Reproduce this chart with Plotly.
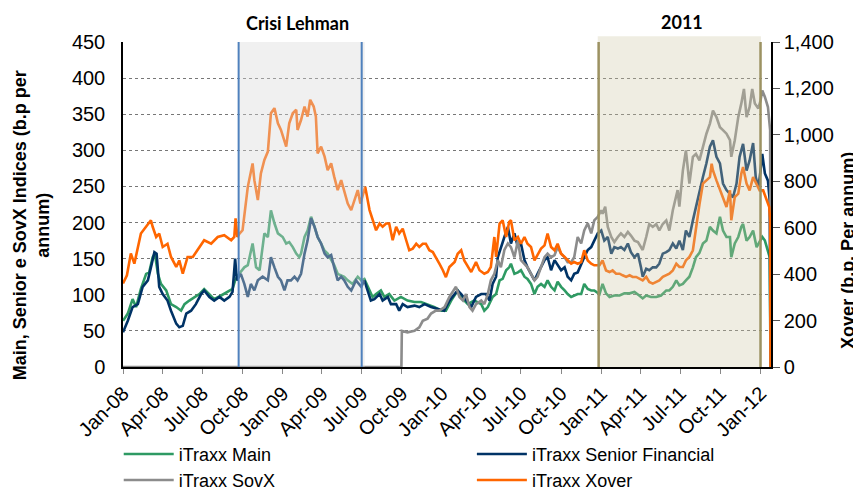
import plotly.graph_objects as go
from datetime import date, timedelta

BASE_DATE = date(2008, 1, 1)

xover_day = [0, 9, 18, 26, 41, 53, 64, 68, 76, 83,
             91, 102, 110, 122, 129, 137, 148, 160, 171, 186,
             202, 217, 232, 248, 255, 258, 262, 267, 274, 286,
             297, 301, 309, 316, 324, 332, 339, 347, 355, 362,
             374, 381, 389, 397, 400, 408, 416, 423, 429, 437,
             442, 446, 454, 462, 469, 477, 484, 492, 500, 507,
             515, 523, 530, 538, 544, 555, 565, 572, 580, 588,
             595, 603, 610, 618, 626, 633, 641, 649, 656, 664,
             672, 679, 687, 694, 702, 710, 717, 725, 733, 740,
             748, 760, 767, 775, 782, 790, 798, 809, 817, 828,
             836, 843, 851, 855, 863, 870, 878, 885, 889, 897,
             905, 912, 920, 927, 935, 943, 950, 958, 966, 973,
             981, 989, 996, 1004, 1012, 1019, 1027, 1034, 1042, 1050,
             1057, 1065, 1073, 1080, 1088, 1092, 1099, 1107, 1115, 1122,
             1130, 1138, 1145, 1153, 1161, 1168, 1176, 1183, 1191, 1199,
             1206, 1214, 1222, 1229, 1237, 1245, 1252, 1260, 1268, 1275,
             1283, 1290, 1298, 1306, 1313, 1321, 1329, 1337, 1345, 1349,
             1352, 1360, 1368, 1375, 1383, 1391, 1394, 1402, 1410, 1417,
             1421, 1429, 1436, 1444, 1452, 1459, 1467, 1475, 1481, 1483,
             1484]
xover_bp = [360, 395, 489, 445, 575, 604, 632, 604, 560, 575,
            517, 531, 474, 431, 459, 402, 474, 474, 503, 546,
            531, 560, 568, 546, 560, 640, 560, 575, 589, 776,
            877, 805, 719, 834, 892, 928, 1093, 1115, 1050, 1021,
            949, 1050, 1093, 1108, 1021, 1064, 1122, 1079, 1151, 1122,
            1079, 920, 949, 906, 848, 877, 820, 762, 805, 762,
            704, 676, 719, 762, 704, 776, 676, 632, 589, 618,
            604, 618, 618, 546, 604, 575, 596, 546, 503, 510,
            531, 517, 531, 531, 503, 495, 474, 445, 417, 387,
            431, 452, 488, 503, 459, 431, 409, 452, 417, 402,
            409, 431, 560, 474, 618, 632, 560, 625, 632, 546,
            560, 531, 560, 531, 517, 459, 481, 510, 524, 575,
            517, 503, 531, 488, 474, 459, 445, 452, 445, 452,
            503, 459, 445, 438, 438, 438, 459, 416, 409, 416,
            402, 402, 395, 388, 395, 388, 388, 380, 373, 388,
            366, 359, 366, 373, 388, 395, 402, 416, 445, 431,
            431, 459, 474, 503, 603, 700, 790, 804, 818, 876,
            847, 804, 761, 732, 689, 761, 632, 732, 747, 833,
            861, 790, 761, 818, 790, 761, 761, 718, 689, 632,
            0]

main_day = [0, 11, 22, 30, 41, 53, 60, 68, 73, 80,
            87, 99, 110, 122, 133, 141, 152, 164, 175, 186,
            198, 209, 225, 240, 251, 257, 265, 278, 286, 297,
            305, 313, 324, 332, 339, 347, 355, 366, 374, 381,
            389, 397, 404, 408, 416, 423, 431, 439, 446, 454,
            462, 469, 477, 484, 492, 500, 507, 515, 526, 538,
            546, 553, 561, 572, 580, 591, 599, 610, 622, 637,
            652, 668, 683, 698, 714, 729, 740, 752, 767, 775,
            790, 805, 821, 828, 836, 847, 855, 863, 870, 878,
            885, 889, 897, 905, 912, 920, 927, 935, 943, 950,
            958, 966, 973, 981, 989, 996, 1004, 1012, 1019, 1027,
            1034, 1042, 1050, 1057, 1065, 1073, 1080, 1092, 1099, 1107,
            1115, 1126, 1138, 1149, 1161, 1172, 1183, 1191, 1199, 1210,
            1222, 1233, 1245, 1252, 1260, 1268, 1275, 1283, 1290, 1298,
            1306, 1313, 1321, 1329, 1337, 1345, 1352, 1360, 1368, 1375,
            1383, 1391, 1394, 1402, 1410, 1417, 1421, 1429, 1436, 1444,
            1452, 1459, 1465, 1471, 1478, 1482, 1484]
main_bp = [64, 74, 94, 83, 108, 129, 131, 152, 157, 129,
           115, 106, 87, 83, 78, 87, 92, 97, 101, 108,
           101, 94, 99, 104, 108, 120, 128, 138, 141, 171,
           138, 134, 185, 180, 217, 199, 185, 180, 171, 173,
           166, 157, 152, 157, 180, 189, 208, 194, 180, 171,
           161, 157, 148, 141, 129, 127, 125, 120, 115, 125,
           120, 122, 111, 97, 101, 106, 97, 101, 92, 97,
           92, 90, 90, 87, 83, 78, 78, 92, 106, 97,
           87, 92, 87, 78, 83, 97, 101, 120, 122, 134,
           138, 143, 129, 131, 134, 125, 122, 115, 101, 111,
           115, 111, 120, 111, 106, 118, 111, 106, 101, 97,
           99, 101, 101, 115, 108, 106, 106, 101, 115, 102,
           97, 99, 99, 102, 102, 104, 99, 95, 99, 97,
           97, 99, 106, 106, 111, 120, 113, 115, 120, 125,
           138, 152, 158, 171, 175, 194, 189, 185, 208, 189,
           180, 180, 152, 171, 180, 194, 198, 175, 180, 189,
           166, 173, 180, 175, 162, 152, 0]

senior_day = [0, 11, 22, 34, 45, 57, 64, 72, 77, 83,
              91, 102, 110, 122, 129, 137, 145, 156, 167, 179,
              186, 198, 209, 221, 232, 244, 251, 257, 261, 270,
              278, 286, 293, 301, 309, 320, 332, 339, 347, 355,
              362, 370, 377, 385, 393, 400, 408, 416, 423, 431,
              439, 446, 454, 462, 469, 477, 484, 492, 500, 507,
              515, 523, 534, 546, 553, 561, 568, 576, 588, 595,
              607, 614, 626, 633, 641, 652, 668, 679, 691, 706,
              721, 736, 748, 759, 767, 775, 786, 798, 809, 821,
              832, 840, 847, 855, 859, 866, 874, 882, 889, 897,
              905, 912, 920, 927, 935, 943, 950, 958, 966, 973,
              981, 989, 996, 1004, 1012, 1019, 1027, 1034, 1042, 1050,
              1057, 1065, 1073, 1080, 1088, 1096, 1103, 1111, 1119, 1126,
              1134, 1141, 1149, 1157, 1164, 1172, 1180, 1187, 1191, 1199,
              1206, 1214, 1222, 1229, 1237, 1245, 1252, 1260, 1268, 1275,
              1283, 1290, 1298, 1306, 1313, 1321, 1329, 1337, 1345, 1352,
              1360, 1368, 1375, 1383, 1391, 1398, 1406, 1413, 1421, 1429,
              1436, 1444, 1450, 1456, 1461, 1465, 1471, 1478, 1482, 1484]
senior_bp = [48, 64, 83, 87, 111, 120, 138, 159, 157, 111,
             101, 92, 78, 60, 55, 57, 74, 78, 87, 101,
             106, 97, 92, 97, 92, 97, 104, 150, 120, 129,
             115, 97, 115, 106, 120, 125, 120, 152, 138, 125,
             120, 106, 120, 120, 125, 120, 129, 157, 175, 206,
             194, 180, 171, 157, 152, 155, 138, 120, 125, 120,
             111, 106, 120, 111, 120, 106, 92, 94, 101, 92,
             97, 87, 87, 78, 87, 83, 85, 83, 87, 83,
             81, 78, 92, 101, 106, 101, 92, 83, 97, 101,
             101, 92, 115, 125, 152, 166, 180, 194, 171, 185,
             166, 171, 148, 138, 129, 120, 129, 138, 148, 152,
             134, 148, 141, 134, 138, 125, 120, 129, 131, 143,
             152, 162, 166, 175, 185, 189, 175, 180, 157, 166,
             164, 166, 162, 171, 159, 152, 157, 138, 125, 136,
             134, 138, 138, 143, 157, 159, 162, 171, 164, 175,
             162, 189, 180, 203, 222, 240, 263, 282, 305, 314,
             291, 282, 254, 245, 240, 235, 254, 291, 309, 272,
             286, 310, 263, 249, 272, 295, 268, 258, 231, 0]

sovx_day = [0, 638, 639, 652, 668, 679, 687, 698, 706, 717,
            725, 737, 748, 763, 771, 779, 786, 794, 801, 809,
            821, 828, 836, 843, 851, 859, 866, 874, 882, 889,
            897, 905, 912, 920, 927, 935, 943, 950, 958, 966,
            973, 981, 989, 996, 1004, 1012, 1019, 1027, 1034, 1042,
            1050, 1057, 1065, 1073, 1080, 1088, 1096, 1099, 1105, 1111,
            1119, 1126, 1134, 1141, 1149, 1157, 1164, 1172, 1180, 1191,
            1199, 1206, 1214, 1222, 1229, 1237, 1245, 1252, 1260, 1268,
            1271, 1275, 1283, 1290, 1298, 1306, 1313, 1321, 1329, 1337,
            1345, 1352, 1360, 1368, 1375, 1383, 1391, 1394, 1402, 1410,
            1417, 1423, 1429, 1436, 1442, 1448, 1456, 1461, 1465, 1471,
            1478, 1483, 1484]
sovx_bp = [0, 0, 50, 48, 50, 55, 64, 67, 74, 78,
           78, 83, 97, 111, 97, 92, 101, 83, 78, 87,
           92, 87, 101, 120, 129, 148, 138, 162, 171, 166,
           152, 175, 148, 143, 138, 129, 120, 125, 138, 152,
           157, 152, 155, 166, 157, 152, 145, 145, 152, 180,
           171, 189, 199, 185, 203, 208, 217, 212, 222, 194,
           180, 173, 180, 185, 180, 187, 182, 175, 173, 162,
           180, 198, 194, 198, 189, 198, 203, 189, 217, 235,
           245, 222, 272, 300, 254, 291, 295, 286, 305, 323,
           337, 355, 346, 332, 328, 323, 314, 291, 314, 346,
           365, 385, 346, 360, 385, 365, 358, 369, 383, 374,
           360, 328, 0]

# event windows
lehman_window = ["2008-09-22", "2009-07-01"]
y2011_window = ["2010-12-26", "2012-01-01"]


def to_dates(days):
    return [(BASE_DATE + timedelta(days=d)).isoformat() for d in days]


FONT = "Liberation Sans, Arial, sans-serif"
LW = 2.6

fig = go.Figure()
fig.add_trace(go.Scatter(x=to_dates(main_day), y=main_bp, name="iTraxx Main", mode="lines",
                         line=dict(color="#2e9a63", width=LW), legend="legend"))
fig.add_trace(go.Scatter(x=to_dates(senior_day), y=senior_bp, name="iTraxx Senior Financial",
                         mode="lines", line=dict(color="#003366", width=LW), legend="legend2"))
fig.add_trace(go.Scatter(x=to_dates(sovx_day), y=sovx_bp, name="iTraxx SovX", mode="lines",
                         line=dict(color="#8c8c8c", width=LW), legend="legend3"))
fig.add_trace(go.Scatter(x=to_dates(xover_day), y=xover_bp, name="iTraxx Xover", mode="lines",
                         yaxis="y2", line=dict(color="#ff6600", width=LW), legend="legend4"))

shapes = [
    dict(type="rect", xref="x", yref="paper", x0="2008-09-22", x1="2009-07-08", y0=0, y1=1,
         fillcolor="rgba(215,215,215,0.38)", line=dict(width=0), layer="above"),
    dict(type="rect", xref="x", yref="paper", x0="2010-12-24", x1="2012-01-02", y0=0, y1=1.018,
         fillcolor="rgba(205,198,165,0.32)", line=dict(width=0), layer="above"),
]
for d in lehman_window:
    shapes.append(dict(type="line", xref="x", yref="paper", x0=d, x1=d, y0=0, y1=1,
                       line=dict(color="#4f81bd", width=2), layer="above"))
for d in y2011_window:
    shapes.append(dict(type="line", xref="x", yref="paper", x0=d, x1=d, y0=0, y1=1,
                       line=dict(color="#9c9262", width=2.5), layer="above"))

annotations = [
    dict(text="Crisi Lehman", xref="x", yref="paper", x="2009-02-05", y=1.058,
         xanchor="center", yanchor="middle", showarrow=False,
         font=dict(family="Lato, sans-serif", size=18, color="black", weight="bold")),
    dict(text="2011", xref="x", yref="paper", x="2011-07-04", y=1.063,
         xanchor="center", yanchor="middle", showarrow=False,
         font=dict(family="Lato, sans-serif", size=18, color="black", weight="bold")),
    dict(text="Main, Senior e SovX Indices (b.p per<br>annum)", xref="paper", yref="paper",
         x=-0.142, y=0.436, xanchor="center", yanchor="middle", textangle=-90, showarrow=False,
         font=dict(family=FONT, size=18, color="black", weight="bold")),
    dict(text="Xover (b.p. Per annum)", xref="paper", yref="paper",
         x=1.1197, y=0.359, xanchor="center", yanchor="middle", textangle=-90, showarrow=False,
         font=dict(family=FONT, size=18, color="black", weight="bold")),
]


def legend_box(x, y):
    return dict(orientation="h", x=x, xanchor="left", y=y, yanchor="middle", itemwidth=50,
                bgcolor="rgba(0,0,0,0)", borderwidth=0,
                font=dict(size=18, family=FONT, color="black"))


# page has an 8px body margin, so the figure is 8px smaller and margins shifted by 8
fig.update_layout(
    width=853, height=484,
    margin=dict(l=115, r=90, t=34, b=125, autoexpand=False),
    showlegend=True,
    paper_bgcolor="white", plot_bgcolor="white",
    font=dict(family=FONT, color="black"),
    shapes=shapes, annotations=annotations,
    xaxis=dict(type="date", range=["2008-01-01", "2012-01-25"], tick0="2008-01-01", dtick="M3",
               tickformat="%b-%y", tickangle=-45, ticks="outside", ticklen=5, tickcolor="#888",
               showline=True, linecolor="black", linewidth=1.5, showgrid=False, zeroline=False,
               tickfont=dict(size=20, family=FONT, color="black")),
    yaxis=dict(range=[0, 450], dtick=50, showgrid=True, gridcolor="#777", griddash="dot",
               gridwidth=1, showline=True, linecolor="black", linewidth=1.5, zeroline=False,
               ticks="", ticklabelstandoff=12, tickfont=dict(size=20, family=FONT, color="black")),
    yaxis2=dict(overlaying="y", side="right", range=[0, 1400], dtick=200, tickformat=",",
                showgrid=False, showline=True, linecolor="black", linewidth=1.5, zeroline=False,
                ticks="outside", ticklen=7, tickcolor="#555",
                tickfont=dict(size=20, family=FONT, color="black")),
    legend=legend_box(-0.0066, -0.2686),
    legend2=legend_box(0.5384, -0.2686),
    legend3=legend_box(-0.0066, -0.3486),
    legend4=legend_box(0.5384, -0.3486),
)

fig.write_html("out.html")
